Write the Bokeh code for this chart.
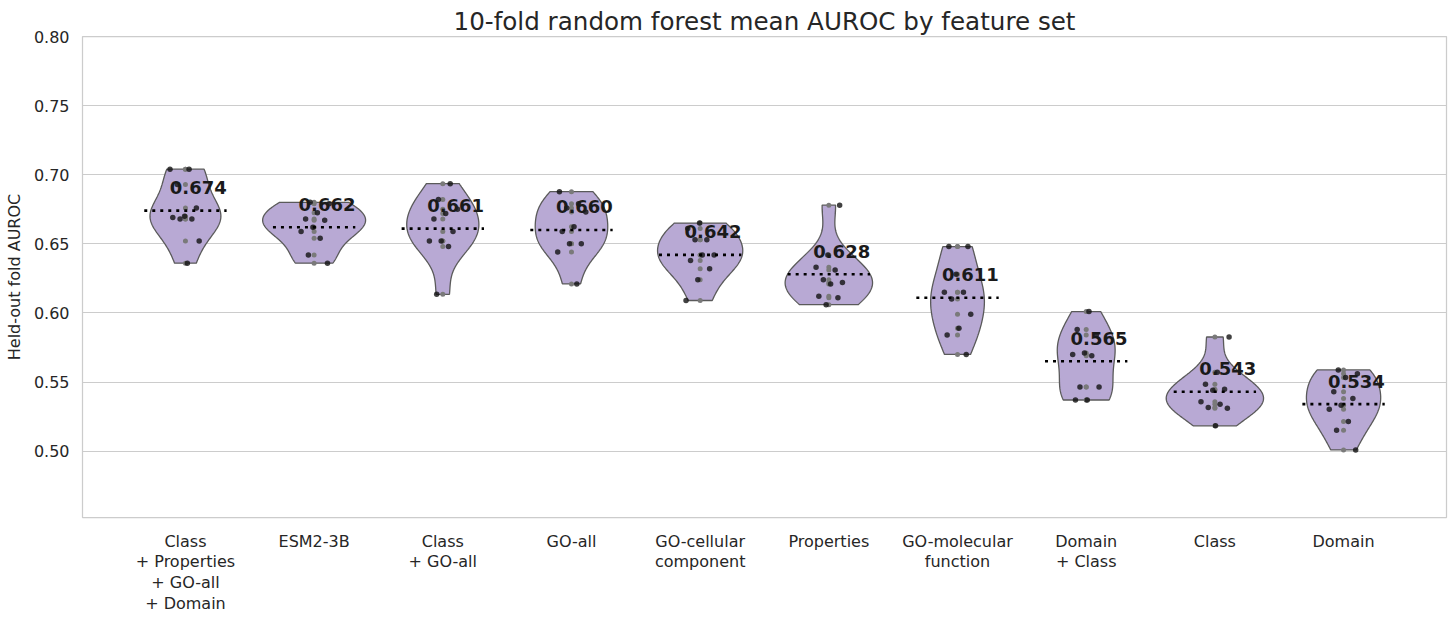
import numpy as np
from bokeh.plotting import figure
from bokeh.models import Range1d, FixedTicker, NumeralTickFormatter, ColumnDataSource
from bokeh.core.properties import value
from bokeh.embed import file_html
from bokeh.resources import INLINE

# ---------------- data ----------------
feature_sets = [
    "Class\n+ Properties\n+ GO-all\n+ Domain",
    "ESM2-3B",
    "Class\n+ GO-all",
    "GO-all",
    "GO-cellular\ncomponent",
    "Properties",
    "GO-molecular\nfunction",
    "Domain\n+ Class",
    "Class",
    "Domain",
]

auroc_class_props_go_domain = [0.704, 0.704, 0.693, 0.676, 0.670, 0.669, 0.668, 0.668, 0.652, 0.636]
auroc_esm2_3b = [0.680, 0.679, 0.6725, 0.668, 0.667, 0.662, 0.659, 0.654, 0.642, 0.636]
auroc_class_go = [0.6935, 0.682, 0.675, 0.672, 0.668, 0.659, 0.652, 0.652, 0.648, 0.6135]
auroc_go_all = [0.6877, 0.679, 0.676, 0.673, 0.6623, 0.659, 0.650, 0.650, 0.644, 0.621]
auroc_go_cc = [0.665, 0.661, 0.653, 0.653, 0.642, 0.642, 0.638, 0.632, 0.624, 0.609]
auroc_properties = [0.678, 0.642, 0.633, 0.631, 0.624, 0.622, 0.621, 0.612, 0.611, 0.606]
auroc_go_mf = [0.648, 0.648, 0.628, 0.615, 0.615, 0.610, 0.599, 0.589, 0.584, 0.570]
auroc_domain_class = [0.601, 0.588, 0.584, 0.571, 0.570, 0.569, 0.5465, 0.5465, 0.537, 0.537]
auroc_class = [0.5826, 0.557, 0.5484, 0.5448, 0.544, 0.5357, 0.534, 0.5316, 0.531, 0.5183]
auroc_domain = [0.5588, 0.556, 0.5533, 0.5429, 0.5381, 0.5333, 0.5304, 0.5215, 0.5152, 0.5009]

mean_auroc = [0.674, 0.662, 0.661, 0.660, 0.642, 0.628, 0.611, 0.565, 0.543, 0.534]

y_ticks = [0.50, 0.55, 0.60, 0.65, 0.70, 0.75, 0.80]

all_folds = [auroc_class_props_go_domain, auroc_esm2_3b, auroc_class_go, auroc_go_all,
             auroc_go_cc, auroc_properties, auroc_go_mf, auroc_domain_class,
             auroc_class, auroc_domain]

# ---------------- figure ----------------
FONT = "DejaVu Sans"
TXT = "#262626"

p = figure(width=1450, height=616,
           x_range=Range1d(-0.8, 9.8), y_range=Range1d(0.452, 0.80),
           output_backend="svg", toolbar_location=None,
           min_border_left=82, min_border_right=4, min_border_top=36, min_border_bottom=97,
           title="10-fold random forest mean AUROC by feature set")

p.title.text_font = FONT
p.title.text_font_size = "24.6px"
p.title.text_font_style = "normal"
p.title.text_color = TXT
p.title.align = "center"
p.title.standoff = 2
p.title.offset = 0

p.background_fill_color = "white"
p.border_fill_color = "white"
p.outline_line_color = "#cccccc"
p.outline_line_width = 1.25

p.xgrid.visible = False
p.ygrid.grid_line_color = "#cccccc"
p.ygrid.grid_line_width = 1.1

for ax in (p.xaxis[0], p.yaxis[0]):
    ax.axis_line_color = None
    ax.major_tick_line_color = None
    ax.minor_tick_line_color = None
    ax.major_tick_out = 0
    ax.major_tick_in = 0
    ax.major_label_text_font = FONT
    ax.major_label_text_font_size = "16px"
    ax.major_label_text_color = TXT

p.xaxis.major_label_standoff = 14
p.xaxis.major_label_text_line_height = 1.1
p.yaxis.major_label_standoff = 13

p.xaxis.ticker = FixedTicker(ticks=list(range(len(feature_sets))))
p.xaxis.major_label_overrides = {i: lab for i, lab in enumerate(feature_sets)}
p.yaxis.ticker = FixedTicker(ticks=y_ticks)
p.yaxis.formatter = NumeralTickFormatter(format="0.00")
p.yaxis.axis_label = "Held-out fold AUROC"
p.yaxis.axis_label_text_font = FONT
p.yaxis.axis_label_text_font_size = "16px"
p.yaxis.axis_label_text_font_style = "normal"
p.yaxis.axis_label_text_color = TXT
p.yaxis.axis_label_standoff = 7

# ---------------- violins (KDE, scott bw, cut=0, area norm) ----------------
def kde(vals, grid):
    v = np.asarray(vals, dtype=float)
    n = len(v)
    bw = v.std(ddof=1) * n ** (-0.2)
    z = (grid[:, None] - v[None, :]) / bw
    return np.exp(-0.5 * z ** 2).sum(axis=1) / (n * bw * np.sqrt(2 * np.pi))

grids, dens = [], []
for vals in all_folds:
    g = np.linspace(min(vals), max(vals), 100)
    grids.append(g)
    dens.append(kde(vals, g))
gmax = max(d.max() for d in dens)

vx, vy = [], []
for i, (g, d) in enumerate(zip(grids, dens)):
    half = 0.4 * d / gmax
    vx.append(np.concatenate([i - half, (i + half)[::-1]]))
    vy.append(np.concatenate([g, g[::-1]]))

p.patches(xs=vx, ys=vy, fill_color="#b8a9d4", line_color="#5a5a5a", line_width=1.3)

# inner points (grey, at centre) and jittered strip points (black)
gx, gy = [], []
bx, by = [], []
for i, vals in enumerate(all_folds):
    for j, v in enumerate(vals):
        gx.append(i)
        gy.append(v)
        off = (((j * 0.6180339 + i * 0.37) % 1.0) - 0.5) * 0.24
        bx.append(i + off)
        by.append(v)

p.scatter(gx, gy, size=5, fill_color="#7a7a7a", line_color=None)
p.scatter(bx, by, size=5.5, fill_color="#111111", fill_alpha=0.8, line_color=None)

# mean lines
idx = np.arange(len(mean_auroc))
p.segment(x0=idx - 0.32, y0=mean_auroc, x1=idx + 0.32, y1=mean_auroc,
          line_color="black", line_width=2.6, line_dash="3 5")

# mean labels
src = ColumnDataSource(dict(x=idx + 0.1, y=np.array(mean_auroc) + 0.012,
                            t=[f"{m:.3f}" for m in mean_auroc]))
p.text(x="x", y="y", text="t", source=src, text_font=value(FONT),
       text_font_size="18px", text_font_style="bold", text_color="#1a1a1a",
       text_align="center", text_baseline="bottom")

open("out.html", "w").write(file_html(p, INLINE))
